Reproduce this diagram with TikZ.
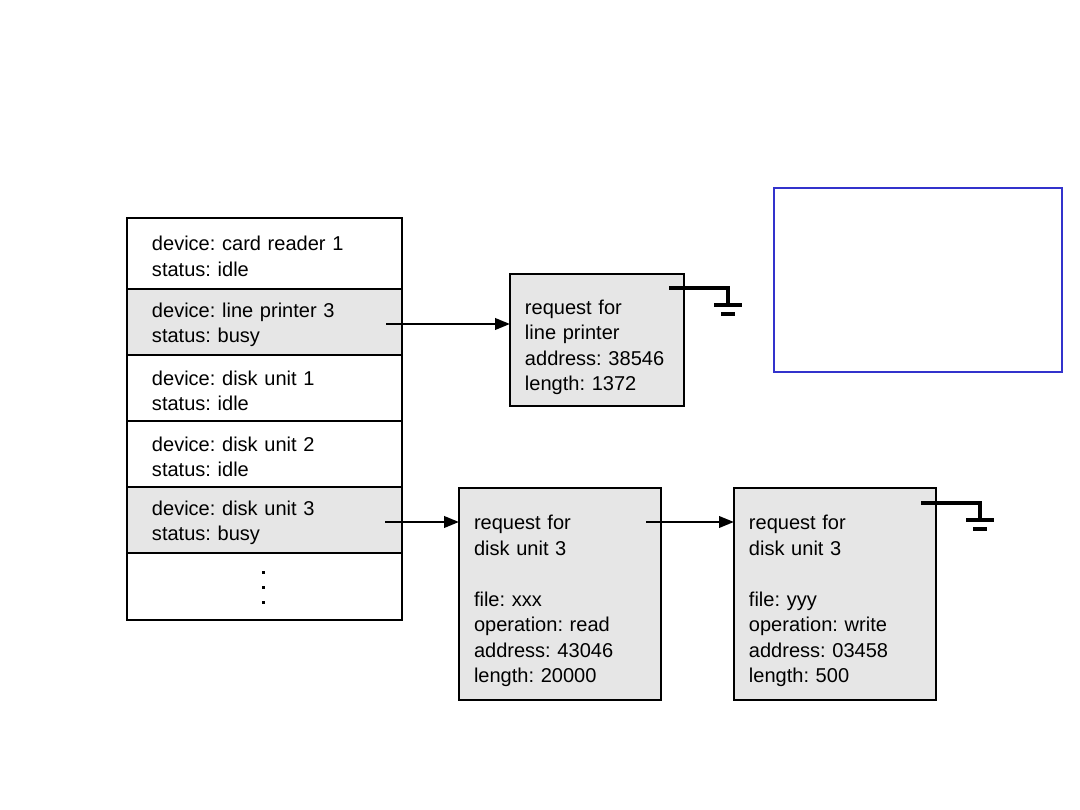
\documentclass[tikz,border=0pt]{standalone}
\usepackage{fontspec}
\setmainfont{Liberation Sans}
\usetikzlibrary{positioning,arrows.meta,calc}
\definecolor{cellgray}{HTML}{E6E6E6}
\definecolor{noteblue}{HTML}{3333CC}
\newcommand{\dfont}{\fontsize{11.4}{14.5}\selectfont\frenchspacing}
\tikzset{
  >={Triangle[length=8.5pt,width=6.5pt]},
  devrow/.style={draw,line width=1.3pt,minimum width=5.5cm,minimum height=1.32cm,
    text width=4.5cm,inner xsep=0.5cm,inner ysep=0pt,outer sep=0pt,
    align=left,font=\dfont,execute at begin node={\rule{0pt}{11.7pt}}},
  busy/.style={fill=cellgray},
  reqbox/.style={draw,fill=cellgray,line width=1.3pt,inner xsep=0.3cm,
    inner ysep=0pt,outer sep=0pt,align=left,font=\dfont,
    minimum width=4.04cm,minimum height=4.24cm,text width=3.44cm,
    execute at begin node={\rule{0pt}{16.5pt}}},
  ptr/.style={->,line width=1.4pt},
  gnd/.style={line width=2.2pt},
  notebox/.style={draw=noteblue,line width=1.2pt,minimum width=5.76cm,
    minimum height=3.68cm,inner sep=0pt,outer sep=0pt,anchor=north west},
}
\begin{document}
\begin{tikzpicture}[x=0.02cm,y=-0.02cm]
  \useasboundingbox (0,0) rectangle (1080,810);
  % device table
  \node[devrow,minimum height=1.42cm,anchor=north west] (r1) at (127,218)
    {device: card reader 1\\ status: idle};
  \node[devrow,busy,below=0pt of r1] (r2) {device: line printer 3\\ status: busy};
  \node[devrow,below=0pt of r2] (r3) {device: disk unit 1\\ status: idle};
  \node[devrow,below=0pt of r3] (r4) {device: disk unit 2\\ status: idle};
  \node[devrow,busy,below=0pt of r4] (r5) {device: disk unit 3\\ status: busy};
  \node[devrow,below=0pt of r5,minimum height=1.34cm] (r6) {};
  \foreach \y in {571,586,601}
    \fill (261.5,\y) rectangle ++(3,3);
  % request queues
  \node[reqbox,anchor=north west,minimum width=3.48cm,minimum height=2.64cm,
    text width=2.88cm] (req1) at (510,274)
    {request for\\ line printer\\ address: 38546\\ length: 1372};
  \node[reqbox,anchor=north west] (req2) at (459,488)
    {request for\\ disk unit 3\\[14.5pt] file: xxx\\ operation: read\\
     address: 43046\\ length: 20000};
  \node[reqbox,right=1.46cm of req2] (req3)
    {request for\\ disk unit 3\\[14.5pt] file: yyy\\ operation: write\\
     address: 03458\\ length: 500};
  \node[notebox] (note) at (774,188) {};
  % links
  \coordinate (t2) at (386,324);
  \coordinate (t5) at (385,522);
  \coordinate (n2) at (646,522);
  \draw[ptr] (t2) -- (t2 -| req1.west);
  \draw[ptr] (t5) -- (t5 -| req2.west);
  \draw[ptr] (n2) -- (n2 -| req3.west);
  % null ends
  \coordinate (e1) at (669,288);
  \draw[gnd] (e1) -- ++(59,0) -- ++(0,17) coordinate (e1b);
  \draw[gnd] ($(e1b)+(-14,0)$) -- ++(28,0);
  \draw[gnd] ($(e1b)+(-7,9)$) -- ++(14,0);
  \coordinate (e3) at (921,503);
  \draw[gnd] (e3) -- ++(59,0) -- ++(0,17) coordinate (e3b);
  \draw[gnd] ($(e3b)+(-14,0)$) -- ++(28,0);
  \draw[gnd] ($(e3b)+(-7,9)$) -- ++(14,0);
\end{tikzpicture}
\end{document}
